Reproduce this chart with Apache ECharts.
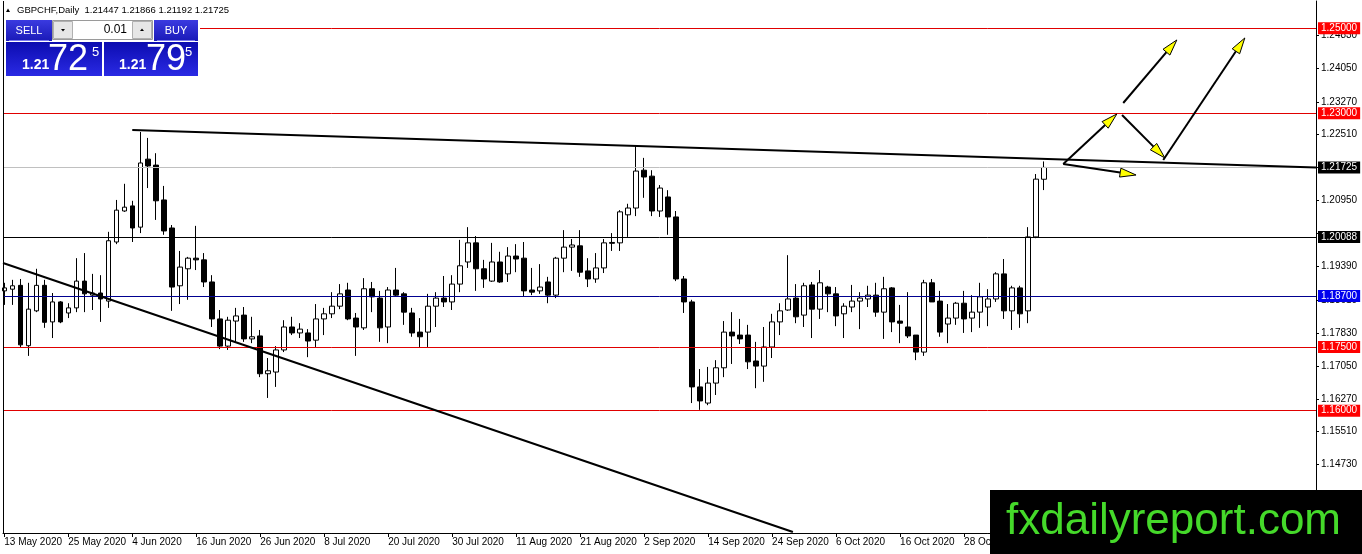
<!DOCTYPE html>
<html><head><meta charset="utf-8">
<script src="https://cdn.jsdelivr.net/npm/echarts@6/dist/echarts.min.js"></script>
<style>html,body{margin:0;padding:0;background:#fff}#c{width:1362px;height:554px}</style>
</head><body><div id="c"></div><script>
// ---- DATA ----
const opens = [1.1882,1.1886,1.1895,1.1753,1.1835,1.1895,1.1809,1.1856,1.1830,1.1842,1.1905,1.1872,1.1877,1.1858,1.1997,1.2070,1.2082,1.2032,1.2192,1.2178,1.2096,1.2030,1.1894,1.1934,1.1959,1.1955,1.1903,1.1816,1.1752,1.1811,1.1825,1.1769,1.1776,1.1687,1.1691,1.1743,1.1797,1.1783,1.1783,1.1766,1.1816,1.1828,1.1846,1.1884,1.1818,1.1795,1.1887,1.1865,1.1797,1.1884,1.1875,1.1830,1.1785,1.1785,1.1846,1.1865,1.1856,1.1898,1.1950,1.1995,1.1934,1.1905,1.1950,1.1922,1.1964,1.1959,1.1884,1.1882,1.1903,1.1872,1.1959,1.1985,1.1988,1.1929,1.1910,1.1936,1.1996,1.1995,1.2061,1.2077,1.2166,1.2152,1.2070,1.2103,1.2056,1.1910,1.1856,1.1656,1.1618,1.1665,1.1701,1.1785,1.1778,1.1778,1.1717,1.1705,1.1750,1.1809,1.1837,1.1865,1.1825,1.1896,1.1839,1.1891,1.1875,1.1828,1.1844,1.1858,1.1863,1.1872,1.1832,1.1889,1.1811,1.1797,1.1778,1.1738,1.1901,1.1858,1.1804,1.1818,1.1853,1.1818,1.1832,1.1844,1.1863,1.1922,1.1835,1.1889,1.1835,1.2009,1.21447];
const highs = [1.1901,1.1908,1.1910,1.1901,1.1934,1.1908,1.1877,1.1858,1.1853,1.1959,1.1971,1.1922,1.1919,1.2021,1.2096,1.2134,1.2094,1.2256,1.2242,1.2206,1.2129,1.2037,1.1976,1.1962,1.2035,1.1971,1.1919,1.1837,1.1821,1.1842,1.1844,1.1821,1.1790,1.1724,1.1752,1.1813,1.1821,1.1806,1.1792,1.1851,1.1842,1.1879,1.1898,1.1901,1.1830,1.1912,1.1903,1.1882,1.1891,1.1936,1.1879,1.1842,1.1818,1.1875,1.1879,1.1917,1.1919,1.2002,1.2032,1.2011,1.1955,1.1995,1.1974,1.1985,1.1992,1.1997,1.1936,1.1945,1.1915,1.1962,1.2025,1.2004,1.2025,1.1959,1.1971,1.2004,1.2018,1.2072,1.2087,1.2223,1.2195,1.2166,1.2131,1.2119,1.2070,1.1917,1.1861,1.1698,1.1703,1.1719,1.1811,1.1832,1.1816,1.1802,1.1762,1.1797,1.1828,1.1853,1.1966,1.1898,1.1901,1.1903,1.1931,1.1894,1.1891,1.1853,1.1896,1.1879,1.1894,1.1901,1.1915,1.1891,1.1849,1.1879,1.1778,1.1908,1.1910,1.1882,1.1851,1.1856,1.1882,1.1872,1.1901,1.1886,1.1926,1.1957,1.1894,1.1894,1.2032,1.2157,1.21866];
const lows = [1.1849,1.1849,1.1750,1.1729,1.1832,1.1795,1.1771,1.1806,1.1818,1.1832,1.1832,1.1837,1.1809,1.1842,1.1992,1.2068,1.1997,1.2018,1.2124,1.2049,1.2014,1.1835,1.1851,1.1861,1.1931,1.1891,1.1797,1.1745,1.1743,1.1762,1.1762,1.1759,1.1679,1.1630,1.1656,1.1738,1.1778,1.1771,1.1726,1.1750,1.1778,1.1818,1.1839,1.1813,1.1729,1.1790,1.1832,1.1762,1.1759,1.1868,1.1802,1.1774,1.1750,1.1750,1.1797,1.1844,1.1837,1.1879,1.1936,1.1882,1.1889,1.1903,1.1901,1.1903,1.1926,1.1870,1.1872,1.1875,1.1853,1.1865,1.1926,1.1929,1.1915,1.1891,1.1901,1.1924,1.1976,1.1976,1.2009,1.2058,1.2101,1.2058,1.2056,1.2014,1.1905,1.1830,1.1618,1.1602,1.1613,1.1637,1.1679,1.1710,1.1757,1.1698,1.1653,1.1668,1.1724,1.1778,1.1835,1.1806,1.1797,1.1771,1.1816,1.1832,1.1799,1.1771,1.1832,1.1792,1.1844,1.1821,1.1769,1.1785,1.1759,1.1771,1.1719,1.1729,1.1856,1.1774,1.1759,1.1802,1.1783,1.1785,1.1795,1.1799,1.1856,1.1816,1.1790,1.1795,1.1806,1.2006,1.21192];
const closes = [1.1889,1.1894,1.1755,1.1839,1.1895,1.1808,1.1856,1.1809,1.1842,1.1905,1.1875,1.1877,1.1863,1.2000,1.2072,1.2079,1.2030,1.2183,1.2176,1.2094,1.2023,1.1891,1.1938,1.1959,1.1955,1.1903,1.1816,1.1752,1.1813,1.1823,1.1769,1.1774,1.1687,1.1694,1.1743,1.1797,1.1783,1.1792,1.1764,1.1816,1.1828,1.1846,1.1875,1.1816,1.1797,1.1887,1.1868,1.1795,1.1884,1.1872,1.1832,1.1783,1.1774,1.1846,1.1865,1.1856,1.1898,1.1941,1.1995,1.1934,1.1910,1.1950,1.1903,1.1964,1.1957,1.1882,1.1879,1.1891,1.1872,1.1959,1.1985,1.1990,1.1926,1.1910,1.1936,1.1995,1.1994,1.2068,1.2077,1.2164,1.2150,1.2070,1.2124,1.2056,1.1910,1.1856,1.1656,1.1623,1.1665,1.1701,1.1785,1.1776,1.1769,1.1715,1.1705,1.1750,1.1809,1.1835,1.1863,1.1821,1.1894,1.1839,1.1901,1.1875,1.1823,1.1846,1.1858,1.1865,1.1872,1.1832,1.1887,1.1809,1.1806,1.1776,1.1738,1.1901,1.1856,1.1785,1.1818,1.1853,1.1816,1.1832,1.1868,1.1863,1.1922,1.1835,1.1889,1.1828,1.2009,1.2145,1.21725];

const dateIdx = [0,8,16,24,32,40,48,56,64,72,80,88,96,104,112,120];
const dateLabels = ['13 May 2020','25 May 2020','4 Jun 2020','16 Jun 2020','26 Jun 2020','8 Jul 2020','20 Jul 2020','30 Jul 2020','11 Aug 2020','21 Aug 2020','2 Sep 2020','14 Sep 2020','24 Sep 2020','6 Oct 2020','16 Oct 2020','28 Oct 2020'];
const priceTicks = [1.2483,1.2405,1.2327,1.2251,1.2173,1.2095,1.2017,1.1939,1.1861,1.1783,1.1705,1.1627,1.1551,1.1473];
const priceLabels = [1.2483,1.2405,1.2327,1.2251,1.2095,1.1939,1.1861,1.1783,1.1705,1.1627,1.1551,1.1473];

const levelValues = [1.25, 1.23, 1.21725, 1.20088, 1.187, 1.175, 1.16];
const levelLineColors = ['#e00000','#e00000','#c0c0c0','#000000','#000090','#e00000','#e00000'];
const levelBoxColors = ['#ff0000','#ff0000','#000000','#000000','#0000ee','#ff0000','#ff0000'];

// trend lines [x1,y1,x2,y2]
const trendLines = [
  [16, 1.22607, 164, 1.21722],
  [-0.16, 1.19476, 98.6, 1.13146]
];
// arrows
const arrowX1 = [132.4, 132.4, 139.75, 139.9, 144.9];
const arrowY1 = [1.21806, 1.21806, 1.22960, 1.23242, 1.21900];
const arrowX2 = [139.1, 141.5, 145.1, 146.6, 155.1];
const arrowY2 = [1.22983, 1.21547, 1.21948, 1.24725, 1.24772];

// ---- CHART ----
const FONT = 'Liberation Sans, Arial, sans-serif';
const X_MIN = -0.16, X_MAX = 164, Y_MIN = 1.13122, Y_MAX = 1.25642;
const candleData = opens.map((o,i)=>[i, o, closes[i], lows[i], highs[i]]);
const chart = echarts.init(document.getElementById('c'));

const markData = levelValues.map((v,i)=>({
  yAxis: v,
  lineStyle: {color: levelLineColors[i], width: 1, type: 'solid'},
  label: {show: true, position: 'end', distance: 2, formatter: v.toFixed(5),
    backgroundColor: levelBoxColors[i], color: '#fff', fontSize: 10, fontFamily: FONT,
    padding: [1,3,0,3], lineHeight: 11}
}));
// left frame line
markData.push({xAxis: X_MIN, lineStyle: {color: '#000', width: 1, type: 'solid'}, label: {show: false}});
trendLines.forEach(t=>{
  markData.push([
    {coord: [t[0], t[1]], lineStyle: {color:'#000', width: 2, type:'solid'}, label:{show:false}},
    {coord: [t[2], t[3]]}
  ]);
});

const lg = (a,b)=>new echarts.graphic.LinearGradient(0,0,0,1,[{offset:0,color:a},{offset:1,color:b}]);

chart.setOption({
  animation: false,
  backgroundColor: '#ffffff',
  grid: {left: 3, right: 46, top: 1, bottom: 21, containLabel: false, outerBoundsMode: 'none'},
  xAxis: {
    type: 'value', min: X_MIN, max: X_MAX,
    axisLine: {show: true, onZero: false, lineStyle: {color: '#000', width: 1}},
    axisTick: {show: true, customValues: dateIdx, length: 4, lineStyle: {color: '#000'}},
    axisLabel: {customValues: dateIdx, formatter: v => dateLabels[dateIdx.indexOf(Math.round(v))] || '',
      align: 'left', margin: 4, fontSize: 10, color: '#000', fontFamily: FONT},
    splitLine: {show: false}
  },
  yAxis: {
    type: 'value', position: 'right', min: Y_MIN, max: Y_MAX,
    axisLine: {show: true, onZero: false, lineStyle: {color: '#000', width: 1}},
    axisTick: {show: true, customValues: priceTicks, length: 3, lineStyle: {color: '#000'}},
    axisLabel: {customValues: priceLabels, formatter: v => v.toFixed(5), margin: 5, fontSize: 10, color: '#000', fontFamily: FONT},
    splitLine: {show: false}
  },
  series: [{
    type: 'candlestick',
    data: candleData,
    encode: {x: 0, y: [1,2,3,4]},
    barWidth: 5,
    itemStyle: {color: '#ffffff', color0: '#000000', borderColor: '#000000', borderColor0: '#000000', borderWidth: 1},
    markLine: {symbol: ['none','none'], silent: true, animation: false, precision: 5, data: markData},
    silent: true
  },{
    type: 'custom',
    data: arrowX1.map((v,i)=>[v, arrowY1[i], arrowX2[i], arrowY2[i]]),
    encode: {x: [0,2], y: [1,3]},
    silent: true, clip: false, z: 5,
    renderItem: (params, api) => {
      const p1 = api.coord([api.value(0), api.value(1)]);
      const p2 = api.coord([api.value(2), api.value(3)]);
      const dx = p2[0]-p1[0], dy = p2[1]-p1[1];
      const L = Math.hypot(dx, dy), ux = dx/L, uy = dy/L;
      const hl = 16, hw = 4.5;
      const bx = p2[0]-ux*hl, by = p2[1]-uy*hl;
      const nx = -uy, ny = ux;
      return {type: 'group', children: [
        {type: 'line', shape: {x1: p1[0], y1: p1[1], x2: bx, y2: by}, style: {stroke: '#000', lineWidth: 2}},
        {type: 'polygon', shape: {points: [[p2[0],p2[1]],[bx+nx*hw,by+ny*hw],[bx-nx*hw,by-ny*hw]]},
          style: {fill: '#ffff00', stroke: '#000', lineWidth: 1}}
      ]};
    }
  }],
  graphic: [
    {type:'polygon', z:100, shape:{points:[[6,12],[10,12],[8,8.5]]}, style:{fill:'#000'}},
    {type:'text', z:100, x:17, y:10.5, style:{text:'GBPCHF,Daily  1.21447 1.21866 1.21192 1.21725', fill:'#000', font:'9.5px '+FONT, verticalAlign:'middle'}},
    // panel background
    {type:'rect', z:100, shape:{x:4,y:18,width:196,height:60}, style:{fill:'#ffffff'}},
    {type:'rect', z:100, shape:{x:6,y:20,width:46,height:21}, style:{fill:lg('#3a3ae0','#1a1ab8')}},
    {type:'line', z:101, shape:{x1:9,y1:40.5,x2:49,y2:40.5}, style:{stroke:'#7a7af0',lineWidth:1}},
    {type:'text', z:101, x:29, y:30.5, style:{text:'SELL', fill:'#fff', font:'11px '+FONT, align:'center', verticalAlign:'middle'}},
    {type:'rect', z:100, shape:{x:52.5,y:20.5,width:100,height:19}, style:{fill:'#ffffff', stroke:'#9a9a9a', lineWidth:1}},
    {type:'rect', z:101, shape:{x:53.5,y:21.5,width:19,height:17}, style:{fill:'#e6e6e6', stroke:'#b0b0b0', lineWidth:1}},
    {type:'rect', z:101, shape:{x:132.5,y:21.5,width:19,height:17}, style:{fill:'#e6e6e6', stroke:'#b0b0b0', lineWidth:1}},
    {type:'polygon', z:102, shape:{points:[[61,29],[65,29],[63,31.5]]}, style:{fill:'#000'}},
    {type:'polygon', z:102, shape:{points:[[140,31],[144,31],[142,28.5]]}, style:{fill:'#000'}},
    {type:'text', z:101, x:127, y:30, style:{text:'0.01', fill:'#000', font:'12px '+FONT, align:'right', verticalAlign:'middle'}},
    {type:'rect', z:100, shape:{x:154,y:20,width:44,height:21}, style:{fill:lg('#3a3ae0','#1a1ab8')}},
    {type:'line', z:101, shape:{x1:157,y1:40.5,x2:195,y2:40.5}, style:{stroke:'#7a7af0',lineWidth:1}},
    {type:'text', z:101, x:176, y:30.5, style:{text:'BUY', fill:'#fff', font:'11px '+FONT, align:'center', verticalAlign:'middle'}},
    {type:'rect', z:100, shape:{x:6,y:42,width:96,height:34}, style:{fill:lg('#0c0cb0','#2a2ae4')}},
    {type:'rect', z:100, shape:{x:104,y:42,width:94,height:34}, style:{fill:lg('#0c0cb0','#2a2ae4')}},
    {type:'text', z:101, x:22, y:65.5, style:{text:'1.21', fill:'#fff', font:'bold 14px '+FONT, verticalAlign:'middle'}},
    {type:'text', z:101, x:48, y:60, style:{text:'72', fill:'#fff', font:'36px '+FONT, verticalAlign:'middle'}},
    {type:'text', z:101, x:92, y:52, style:{text:'5', fill:'#fff', font:'13px '+FONT, verticalAlign:'middle'}},
    {type:'text', z:101, x:119, y:65.5, style:{text:'1.21', fill:'#fff', font:'bold 14px '+FONT, verticalAlign:'middle'}},
    {type:'text', z:101, x:146, y:60, style:{text:'79', fill:'#fff', font:'36px '+FONT, verticalAlign:'middle'}},
    {type:'text', z:101, x:185, y:52, style:{text:'5', fill:'#fff', font:'13px '+FONT, verticalAlign:'middle'}},
    // watermark
    {type:'rect', z:100, shape:{x:990,y:490,width:372,height:64}, style:{fill:'#000'}},
    {type:'text', z:101, x:1006, y:522, style:{text:'fxdailyreport.com', fill:'#45d92a', font:'44px '+FONT, verticalAlign:'middle'}}
  ]
});
</script></body></html>
